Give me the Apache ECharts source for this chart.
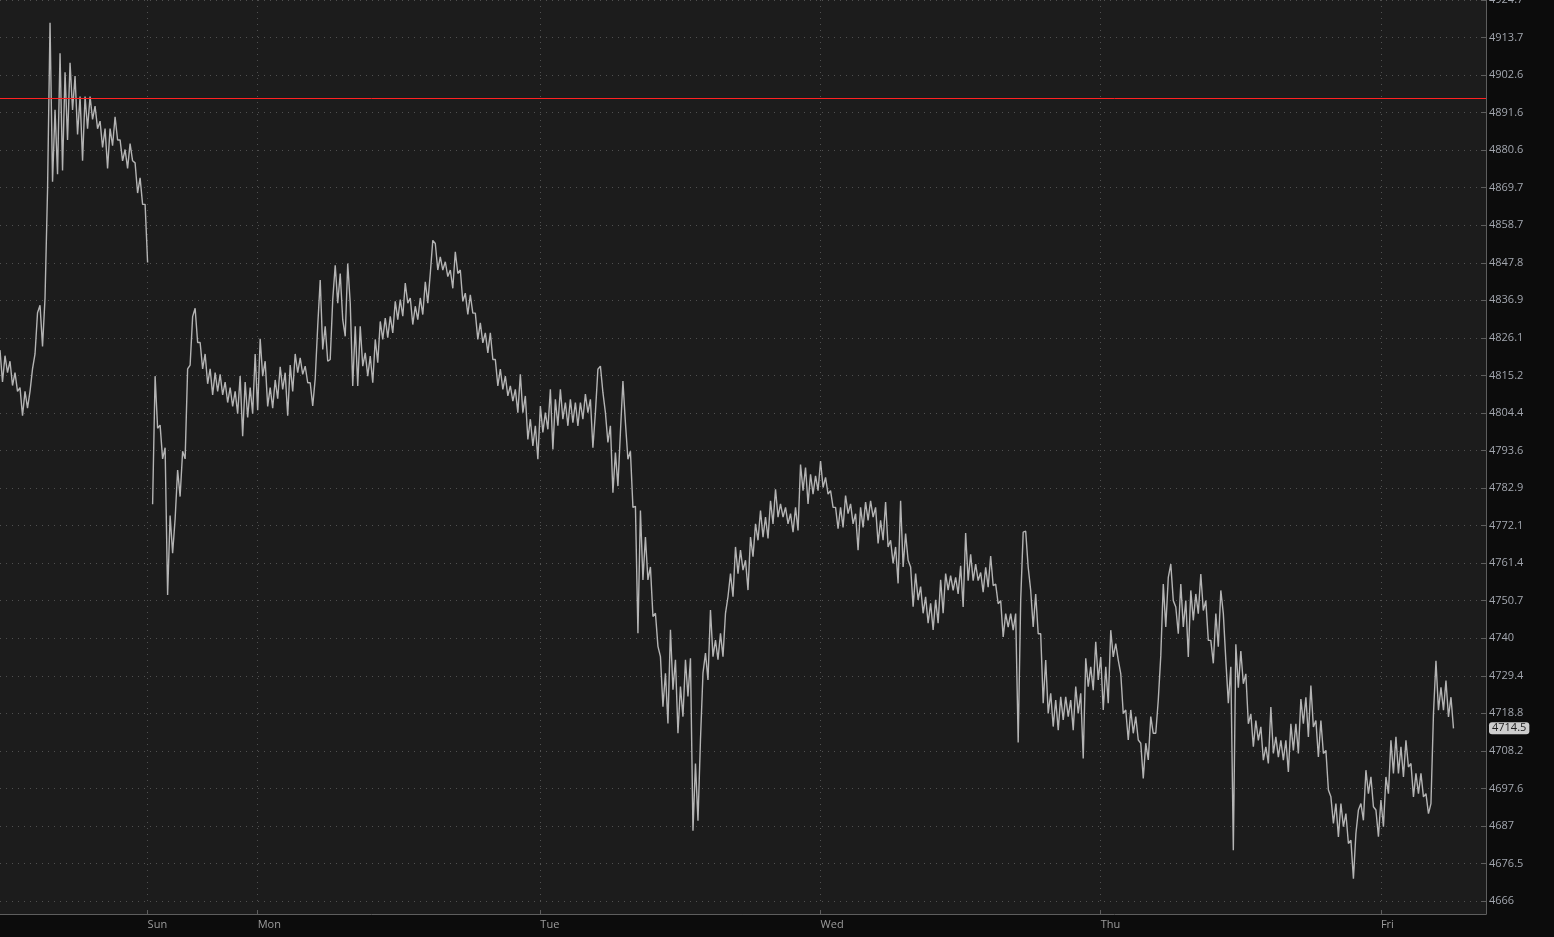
<!DOCTYPE html>
<html>
<head>
<meta charset="utf-8">
<script src="https://cdn.jsdelivr.net/npm/echarts@6/dist/echarts.min.js"></script>
<style>
html,body{margin:0;padding:0;background:#0c0c0c;}
#chart{width:1554px;height:937px;}
</style>
</head>
<body>
<div id="chart"></div>
<script>
// ---- data (prices, two samples per ~5px column) ----
const sessionFri = [
4822.5,4813.3, 4820.9,4816.0, 4819.3,4812.3, 4816.0,4810.6, 4811.7,4803.6, 4810.6,4805.8,
4810.6,4817.1, 4821.4,4833.3, 4835.5,4823.6, 4837.6,4868.9, 4918.0,4871.4, 4892.4,4873.6,
4909.0,4874.7, 4903.4,4883.6, 4906.2,4892.4, 4902.3,4885.2, 4896.3,4877.5, 4896.3,4886.9,
4896.3,4889.6, 4893.5,4886.9, 4889.1,4881.4, 4886.9,4875.3, 4886.9,4881.9, 4890.4,4883.6,
4883.6,4877.5, 4880.8,4875.3, 4882.5,4877.5, 4876.9,4868.1, 4872.5,4864.8, 4864.8,4847.9
];
const sessionSun = [
null,4778.2, 4815.0,4800.0, 4800.9,4791.2, 4794.4,4752.3, 4775.0,4764.2, 4774.0,4788.0,
4780.4,4793.4, 4791.2,4817.1, 4818.2,4832.2, 4834.6,4824.7, 4824.7,4817.1, 4821.4,4812.8,
4817.1,4809.6, 4816.0,4810.6, 4815.5,4809.6, 4813.3,4807.4, 4811.7,4806.3, 4810.6,4804.2,
4815.0,4797.7, 4813.3,4803.1, 4811.7,4804.2, 4821.4,4805.2
];
const sessionMon = [
4825.8,4815.0, 4819.3,4806.3, 4811.7,4805.8, 4813.9,4808.5, 4817.7,4811.2, 4816.0,4803.6,
4818.2,4810.6, 4821.4,4816.0, 4820.3,4815.5, 4817.9,4813.1, 4813.1,4806.4, 4814.3,4829.4,
4842.8,4822.7, 4829.4,4819.3, 4819.8,4837.1, 4847.1,4836.1, 4844.7,4831.3, 4826.5,4847.6,
4836.1,4812.2, 4829.4,4812.2, 4829.4,4817.9, 4821.7,4815.0, 4820.8,4813.1, 4825.6,4818.9,
4830.8,4825.6, 4831.8,4826.1, 4832.3,4827.5, 4836.6,4831.3, 4837.1,4832.3, 4841.9,4836.1,
4837.6,4829.9, 4835.2,4831.3, 4837.6,4832.8, 4842.3,4836.1, 4844.7,4854.3, 4853.4,4845.7,
4849.5,4845.7, 4848.1,4843.8, 4845.7,4840.4, 4851.0,4844.7, 4845.7,4836.6, 4839.0,4832.8,
4838.5,4833.2, 4833.2,4825.6, 4830.4,4824.6, 4827.5,4821.7, 4827.5,4819.8, 4819.8,4812.2,
4817.0,4811.2, 4815.0,4809.3, 4812.2,4807.8, 4811.2,4804.5, 4815.5,4804.5, 4809.3,4796.8,
4802.6,4794.9, 4800.7,4791.1
];
const sessionTue = [
4806.4,4798.8, 4804.5,4799.7, 4811.2,4793.9, 4808.3,4800.7, 4811.2,4802.6, 4807.4,4800.7,
4808.3,4801.6, 4807.4,4800.7, 4807.4,4802.6, 4809.8,4804.5, 4808.3,4794.4, 4804.5,4817.0,
4817.9,4810.3, 4804.5,4795.9, 4800.7,4781.5, 4793.0,4783.4, 4798.8,4813.6, 4801.6,4791.1,
4793.4,4777.3, 4777.6,4741.4, 4776.4,4756.6, 4768.8,4756.6, 4760.3,4746.2, 4747.1,4737.7,
4734.8,4720.6, 4730.1,4715.9, 4742.4,4725.4, 4733.9,4713.1, 4726.3,4717.8, 4733.9,4723.5,
4734.3,4685.7, 4704.6,4688.5, 4711.2,4730.1, 4735.8,4728.2, 4748.0,4734.8, 4739.5,4733.9,
4741.4,4734.8, 4747.1,4751.8, 4758.4,4751.8, 4766.0,4758.4, 4765.1,4759.4, 4762.2,4753.7,
4768.8,4763.2, 4772.6,4767.9, 4776.4,4768.8, 4774.5,4768.4, 4779.2,4772.6, 4782.5,4774.5,
4778.3,4774.5, 4777.3,4772.6, 4775.5,4770.2, 4777.3,4770.7, 4789.6,4782.1, 4788.7,4778.3,
4786.8,4781.1, 4786.3,4782.1
];
const sessionWed = [
4790.6,4783.0, 4785.9,4781.1, 4782.1,4777.3, 4777.3,4771.2, 4777.3,4771.6, 4780.7,4775.5,
4778.3,4772.6, 4775.5,4765.1, 4777.3,4771.6, 4778.8,4773.6, 4779.2,4774.5, 4777.3,4767.0,
4773.6,4767.9, 4778.8,4766.0, 4767.9,4761.3, 4766.0,4755.6, 4779.2,4760.3, 4769.8,4762.2,
4760.3,4749.0, 4758.4,4750.9, 4754.7,4747.1, 4751.8,4744.3, 4749.9,4742.4, 4750.9,4744.3,
4756.6,4747.1, 4758.4,4753.7, 4757.8,4753.6, 4757.3,4752.6, 4760.6,4748.9, 4770.0,4756.4,
4763.9,4756.4, 4761.1,4756.4, 4758.7,4753.1, 4760.2,4754.5, 4763.4,4755.0, 4755.4,4749.8,
4750.7,4740.4, 4747.0,4743.2, 4747.0,4742.3, 4747.0,4710.5, 4750.7,4770.2, 4770.5,4760.2,
4753.6,4743.2, 4752.6,4741.3, 4741.3,4721.6, 4733.8,4718.7, 4724.4,4715.0, 4722.5,4714.0,
4723.4,4716.9, 4723.4,4717.8, 4722.5,4714.0, 4726.3,4718.7, 4724.4,4706.0, 4734.3,4726.3,
4731.9,4725.3, 4739.0,4728.2
];
const sessionThu = [
4734.7,4719.7, 4731.9,4721.6, 4742.3,4734.7, 4738.5,4733.8, 4730.0,4718.7, 4719.7,4711.2,
4719.7,4713.1, 4717.8,4711.2, 4710.3,4700.4, 4710.3,4705.6, 4717.8,4713.1, 4713.1,4722.5,
4735.0,4755.4, 4743.2,4757.3, 4761.1,4750.7, 4748.9,4741.3, 4755.4,4743.2, 4750.7,4734.7,
4753.6,4745.1, 4752.6,4747.0, 4758.3,4747.9, 4750.7,4739.4, 4739.4,4732.9, 4747.0,4737.6,
4753.6,4747.0, 4733.8,4721.6, 4731.9,4680.2, 4738.3,4726.0, 4736.4,4727.1, 4729.9,4715.8,
4718.6,4709.3, 4716.7,4711.1, 4714.9,4705.5, 4709.3,4704.6, 4720.5,4707.4, 4712.1,4706.4,
4711.1,4705.5, 4711.1,4702.2, 4715.8,4708.3, 4715.8,4707.4, 4722.8,4715.8, 4723.3,4712.1,
4726.6,4714.9, 4716.7,4706.4, 4716.7,4707.4, 4708.3,4697.1, 4695.2,4687.7, 4693.3,4683.9,
4693.3,4686.8, 4690.5,4682.1, 4683.0,4672.2, 4684.9,4691.5, 4693.3,4688.6, 4702.7,4696.1,
4700.8,4692.4, 4691.5,4684.0
];
const sessionFri2 = [
4694.3,4686.8, 4700.8,4696.1, 4711.1,4701.8, 4712.1,4701.8, 4709.3,4700.8, 4711.1,4703.6,
4704.6,4695.2, 4701.8,4696.1, 4701.8,4695.2, 4696.1,4690.5, 4693.3,4718.6, 4733.6,4719.6,
4726.1,4719.6, 4728.0,4717.7, 4723.3,4714.5
];
const refLevel = 4895.7;       // red horizontal level
const lastPrice = 4714.5;      // current price tag
const dayLabels = ['Sun','Mon','Tue','Wed','Thu','Fri'];
const dayIndex  = [59, 103, 216, 328, 440, 552];
const slotCount = 595;
const yTickLabels = ['4666','4676.5','4687','4697.6','4708.2','4718.8','4729.4','4740','4750.7',
  '4761.4','4772.1','4782.9','4793.6','4804.4','4815.2','4826.1','4836.9','4847.8','4858.7',
  '4869.7','4880.6','4891.6','4902.6','4913.7','4924.7'];

// ---- build ----
const prices = [].concat(sessionFri, sessionSun, sessionMon, sessionTue, sessionWed, sessionThu, sessionFri2);
// log price scale: axis unit = one tick step
const base = parseFloat(yTickLabels[0]);
const step = Math.log(parseFloat(yTickLabels[yTickLabels.length-1]) / base) / (yTickLabels.length - 1);
const toAxis = p => p == null ? null : Math.log(p / base) / step;

const cats = [];
for (let i = 0; i < slotCount; i++) {
  const d = dayIndex.indexOf(i);
  cats.push(d >= 0 ? dayLabels[d] : String(i));
}
const isDay = (i) => dayIndex.indexOf(i) >= 0;

const chart = echarts.init(document.getElementById('chart'), null, {renderer: 'canvas'});
const fontFamily = '"Open Sans", "Noto Sans", sans-serif';
const axisGrey = '#5e5e5e';
chart.setOption({
  backgroundColor: '#0c0c0c',
  animation: false,
  graphic: [
    {type: 'rect', z: -100, silent: true,
     shape: {x: 0, y: 0, width: 1486, height: 914}, style: {fill: '#1c1c1c'}},
    {type: 'line', z: 10, silent: true,
     shape: {x1: 1486.5, y1: 900, x2: 1486.5, y2: 914.5}, style: {stroke: axisGrey, lineWidth: 1}}
  ],
  grid: {left: 0, right: 68, top: 0, bottom: 36, containLabel: false, outerBoundsMode: 'none'},
  xAxis: {
    type: 'category',
    data: cats,
    boundaryGap: false,
    offset: 13,
    axisLine: {show: true, onZero: false, lineStyle: {color: axisGrey, width: 1}},
    axisTick: {show: true, inside: true, length: 4, interval: isDay, lineStyle: {color: axisGrey}},
    axisLabel: {
      show: true, interval: isDay, align: 'left', margin: 5,
      color: '#9c9c9c', fontSize: 11, fontFamily: fontFamily,
      formatter: (v) => dayLabels.indexOf(v) >= 0 ? v : ''
    },
    splitLine: {show: true, interval: isDay, lineStyle: {color: '#505050', type: [1, 5], width: 1}}
  },
  yAxis: {
    type: 'value',
    position: 'right',
    min: 0, max: yTickLabels.length - 1, interval: 1,
    axisLine: {show: true, lineStyle: {color: axisGrey, width: 1}},
    axisTick: {show: true, inside: true, length: 5, lineStyle: {color: axisGrey}},
    axisLabel: {
      show: true, margin: 3, color: '#a2a6ae', fontSize: 11, fontFamily: fontFamily,
      showMinLabel: true, showMaxLabel: true,
      formatter: (v) => { const k = Math.round(v); return Math.abs(v - k) < 1e-6 ? yTickLabels[k] : ''; }
    },
    splitLine: {show: true, lineStyle: {color: '#505050', type: [1, 5], width: 1}}
  },
  series: [{
    type: 'line',
    data: prices.map(toAxis),
    showSymbol: false,
    symbol: 'none',
    connectNulls: false,
    lineStyle: {color: '#b4b4b4', width: 1.4},
    itemStyle: {color: '#b4b4b4'},
    markLine: {
      silent: true,
      symbol: ['none', 'none'],
      animation: false,
      lineStyle: {color: '#ff2222', width: 1, type: 'solid', opacity: 1},
      data: [
        {yAxis: toAxis(refLevel), lineStyle: {color: '#ff2222', width: 1, type: 'solid', opacity: 1}, label: {show: false}},
        {yAxis: toAxis(lastPrice), lineStyle: {color: '#ff2222', width: 1, opacity: 0},
         label: {show: true, position: 'end', distance: 3, formatter: String(lastPrice),
                 color: '#1e1e1e', backgroundColor: '#cdcdcd', borderRadius: 3, opacity: 1,
                 padding: [1, 3, 0, 3], fontSize: 11, fontFamily: fontFamily}}
      ]
    }
  }]
});
</script>
</body>
</html>
